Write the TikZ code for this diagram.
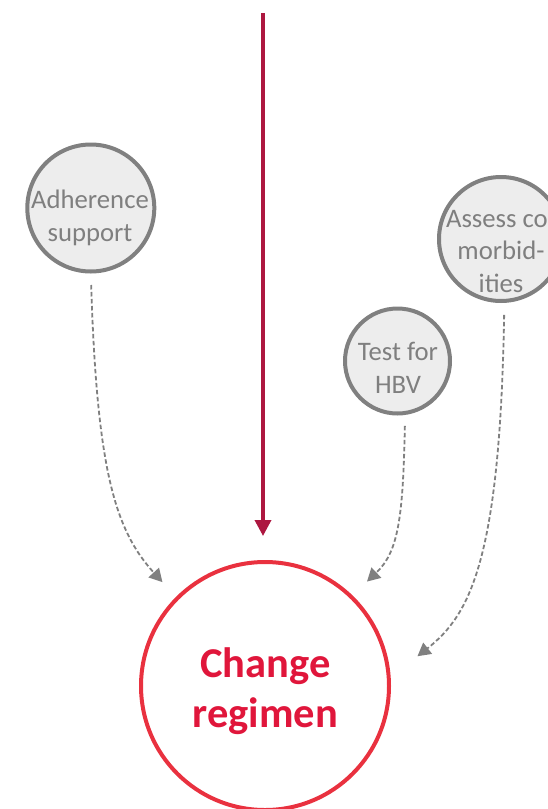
\documentclass[tikz,border=0pt]{standalone}
\usepackage{fontspec}
\setmainfont{Carlito}
\usetikzlibrary{arrows.meta}
\definecolor{grayline}{HTML}{808080}
\definecolor{grayfill}{HTML}{EDEDED}
\definecolor{graytext}{HTML}{7F7F7F}
\definecolor{redring}{HTML}{E9313F}
\definecolor{redtext}{HTML}{E0163B}
\definecolor{redarrow}{HTML}{AD1740}
\begin{document}
\begin{tikzpicture}[x=1pt,y=-1pt,
 graycirc/.style={circle,draw=grayline,fill=grayfill,line width=4pt,inner sep=0pt},
 graylabel/.style={text=graytext,align=center,font=\fontsize{26.7}{32.5}\selectfont,inner sep=0pt},
 redcirc/.style={circle,draw=redring,line width=4pt,minimum size=248pt,inner sep=0pt},
 redlabel/.style={text=redtext,align=center,font=\fontsize{42.5}{50}\selectfont\bfseries,inner sep=0pt},
 dasharrow/.style={draw=grayline,line width=1.8pt,dash pattern=on 4.5pt off 2.5pt,-{Triangle[width=14pt,length=13pt]}},
 mainarrow/.style={draw=redarrow,line width=3.5pt,-{Triangle[width=16pt,length=16pt]}}
]
\useasboundingbox (0,0) rectangle (548,809);
\clip (0,0) rectangle (548,809);

\node[graycirc,minimum size=127pt] (adh) at (90.8,208) {};
\node[graylabel] (adhT) at (90,218) {Adherence\\support};
\node[graycirc,minimum size=105pt] (hbv) at (397.5,361) {};
\node[graylabel] (hbvT) at (398,368) {Test for\\HBV};
\node[graycirc,minimum size=124pt] (ass) at (501,239) {};
\node[graylabel] (assT) at (501,251.5) {Assess co-\\morbid-\\ities};
\node[redcirc] (reg) at (265,686) {};
\node[redlabel] (regT) at (265.5,691) {Change\\regimen};
\coordinate (src) at (263,13);

\draw[mainarrow,shorten >=24pt] (src) -- (src |- reg.north);
\draw[dasharrow,shorten <=11.5pt,shorten >=20pt] (adh.south) .. controls (97,470) and (115,530) .. (reg.135);
\draw[dasharrow,shorten <=11pt,shorten >=20pt] (hbv.-82) .. controls (403,520) and (398,552) .. (reg.46);
\draw[dasharrow,shorten <=12pt,shorten >=34pt] (ass.-87) .. controls (500,560) and (470,615) .. (reg.4);
\end{tikzpicture}
\end{document}
